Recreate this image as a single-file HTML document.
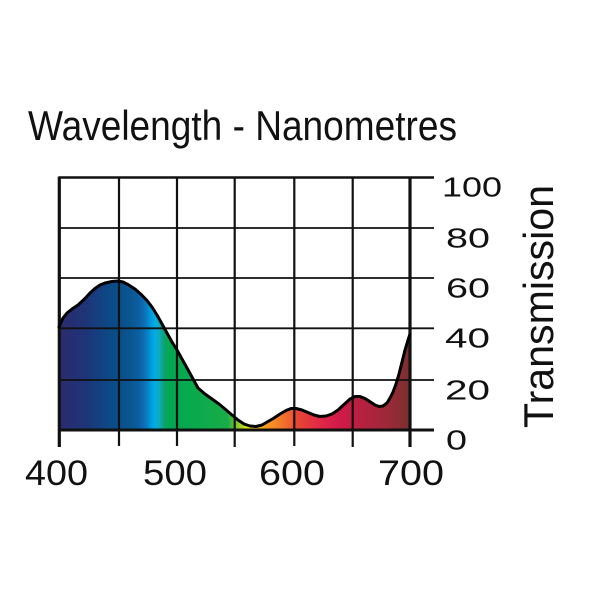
<!DOCTYPE html>
<html>
<head>
<meta charset="utf-8">
<style>
html,body{margin:0;padding:0;background:#fff;}
svg{display:block;}
text{font-family:"Liberation Sans",Arial,sans-serif;fill:#111;}
</style>
</head>
<body>
<svg width="600" height="600" viewBox="0 0 600 600" xmlns="http://www.w3.org/2000/svg">
  <defs>
    <linearGradient id="spec" gradientUnits="userSpaceOnUse" x1="59" y1="0" x2="410" y2="0">
      <stop offset="0" stop-color="#2b2a6e"/>
      <stop offset="0.074" stop-color="#1f3478"/>
      <stop offset="0.145" stop-color="#0b4a86"/>
      <stop offset="0.202" stop-color="#0a5590"/>
      <stop offset="0.231" stop-color="#0c62a4"/>
      <stop offset="0.248" stop-color="#0a78c0"/>
      <stop offset="0.262" stop-color="#009ada"/>
      <stop offset="0.274" stop-color="#00aee8"/>
      <stop offset="0.287" stop-color="#12a8b8"/>
      <stop offset="0.301" stop-color="#0aa468"/>
      <stop offset="0.318" stop-color="#00a850"/>
      <stop offset="0.48" stop-color="#18ac48"/>
      <stop offset="0.516" stop-color="#a0d024"/>
      <stop offset="0.544" stop-color="#f8e818"/>
      <stop offset="0.587" stop-color="#f8a020"/>
      <stop offset="0.658" stop-color="#f06030"/>
      <stop offset="0.675" stop-color="#e84832"/>
      <stop offset="0.744" stop-color="#e02848"/>
      <stop offset="0.8" stop-color="#d01a48"/>
      <stop offset="0.855" stop-color="#b82040"/>
      <stop offset="0.929" stop-color="#a02838"/>
      <stop offset="1" stop-color="#7a3030"/>
    </linearGradient>
  </defs>

  <!-- title -->
  <text x="28" y="140" font-size="42" textLength="429" lengthAdjust="spacingAndGlyphs">Wavelength - Nanometres</text>

  <!-- filled area -->
  <path fill="url(#spec)" d="M59,327 L63,318 L67,313 L72,309 L78,305 L85,298.5 L90,293 L95,288.5 L100,285 L105,283 L112,281.5 L118,281 L123,282 L128,284.5 L135,289 L141.7,295 L147,300.5 L152,307 L157,315 L162,324 L167,333 L172,342 L177,350 L182,359 L187,368 L192,377 L198,388 L205,394 L212,399 L219,404 L225,409 L232,415 L238,420 L244,424 L250,426 L256,426.5 L262,425 L268,421.5 L274,418 L280,414 L286,410.5 L291,408.5 L296,408.5 L302,410 L308,412.5 L314,415 L320,416.5 L326,416 L332,414 L338,410 L344,404.5 L350,399 L355,396.5 L360,396.5 L365,398.5 L370,401.7 L375,405 L379,406.5 L383,406 L387,403 L390,398 L393,392 L396,384 L399,374 L402,362 L405,350 L408,340 L410,334 L410,430 L59,430 Z"/>

  <!-- horizontal gridlines -->
  <g stroke="#111" stroke-width="1.8">
    <line x1="59" y1="177.5" x2="434" y2="177.5" stroke-width="2.4"/>
    <line x1="59" y1="228" x2="434" y2="228"/>
    <line x1="59" y1="278" x2="434" y2="278"/>
    <line x1="59" y1="328.3" x2="434" y2="328.3"/>
    <line x1="59" y1="380" x2="434" y2="380"/>
    <line x1="59" y1="430" x2="434" y2="430" stroke-width="3"/>
  </g>
  <!-- vertical gridlines -->
  <g stroke="#111" stroke-width="2.2">
    <line x1="59.3" y1="176.5" x2="59.3" y2="447" stroke-width="3.2"/>
    <line x1="119" y1="176.5" x2="119" y2="446"/>
    <line x1="177" y1="176.5" x2="177" y2="446"/>
    <line x1="234.7" y1="176.5" x2="234.7" y2="447"/>
    <line x1="294.3" y1="176.5" x2="294.3" y2="446"/>
    <line x1="352.7" y1="176.5" x2="352.7" y2="447"/>
    <line x1="410" y1="176.5" x2="410" y2="447" stroke-width="3.2"/>
  </g>

  <!-- curve -->
  <polyline fill="none" stroke="#000" stroke-width="3" stroke-linejoin="round" stroke-linecap="round" points="59,327 63,318 67,313 72,309 78,305 85,298.5 90,293 95,288.5 100,285 105,283 112,281.5 118,281 123,282 128,284.5 135,289 141.7,295 147,300.5 152,307 157,315 162,324 167,333 172,342 177,350 182,359 187,368 192,377 198,388 205,394 212,399 219,404 225,409 232,415 238,420 244,424 250,426 256,426.5 262,425 268,421.5 274,418 280,414 286,410.5 291,408.5 296,408.5 302,410 308,412.5 314,415 320,416.5 326,416 332,414 338,410 344,404.5 350,399 355,396.5 360,396.5 365,398.5 370,401.7 375,405 379,406.5 383,406 387,403 390,398 393,392 396,384 399,374 402,362 405,350 408,340 410,334"/>

  <!-- bottom labels -->
  <g font-size="35" text-anchor="middle">
    <text x="56.5" y="485" textLength="63" lengthAdjust="spacingAndGlyphs">400</text>
    <text x="175" y="485" textLength="64" lengthAdjust="spacingAndGlyphs">500</text>
    <text x="292" y="485" textLength="66" lengthAdjust="spacingAndGlyphs">600</text>
    <text x="411" y="485" textLength="66" lengthAdjust="spacingAndGlyphs">700</text>
  </g>

  <!-- right labels -->
  <g font-size="28">
    <text x="442" y="196.5" textLength="60" lengthAdjust="spacingAndGlyphs">100</text>
    <text x="446" y="247.5" textLength="44" lengthAdjust="spacingAndGlyphs">80</text>
    <text x="446" y="297.5" textLength="44" lengthAdjust="spacingAndGlyphs">60</text>
    <text x="445" y="347.5" textLength="45" lengthAdjust="spacingAndGlyphs">40</text>
    <text x="445" y="399.5" textLength="45" lengthAdjust="spacingAndGlyphs">20</text>
    <text x="446" y="449.5" textLength="21" lengthAdjust="spacingAndGlyphs">0</text>
  </g>

  <!-- Transmission -->
  <text transform="translate(553,428) rotate(-90)" x="0" y="0" font-size="42" textLength="243" lengthAdjust="spacingAndGlyphs">Transmission</text>
</svg>
</body>
</html>
